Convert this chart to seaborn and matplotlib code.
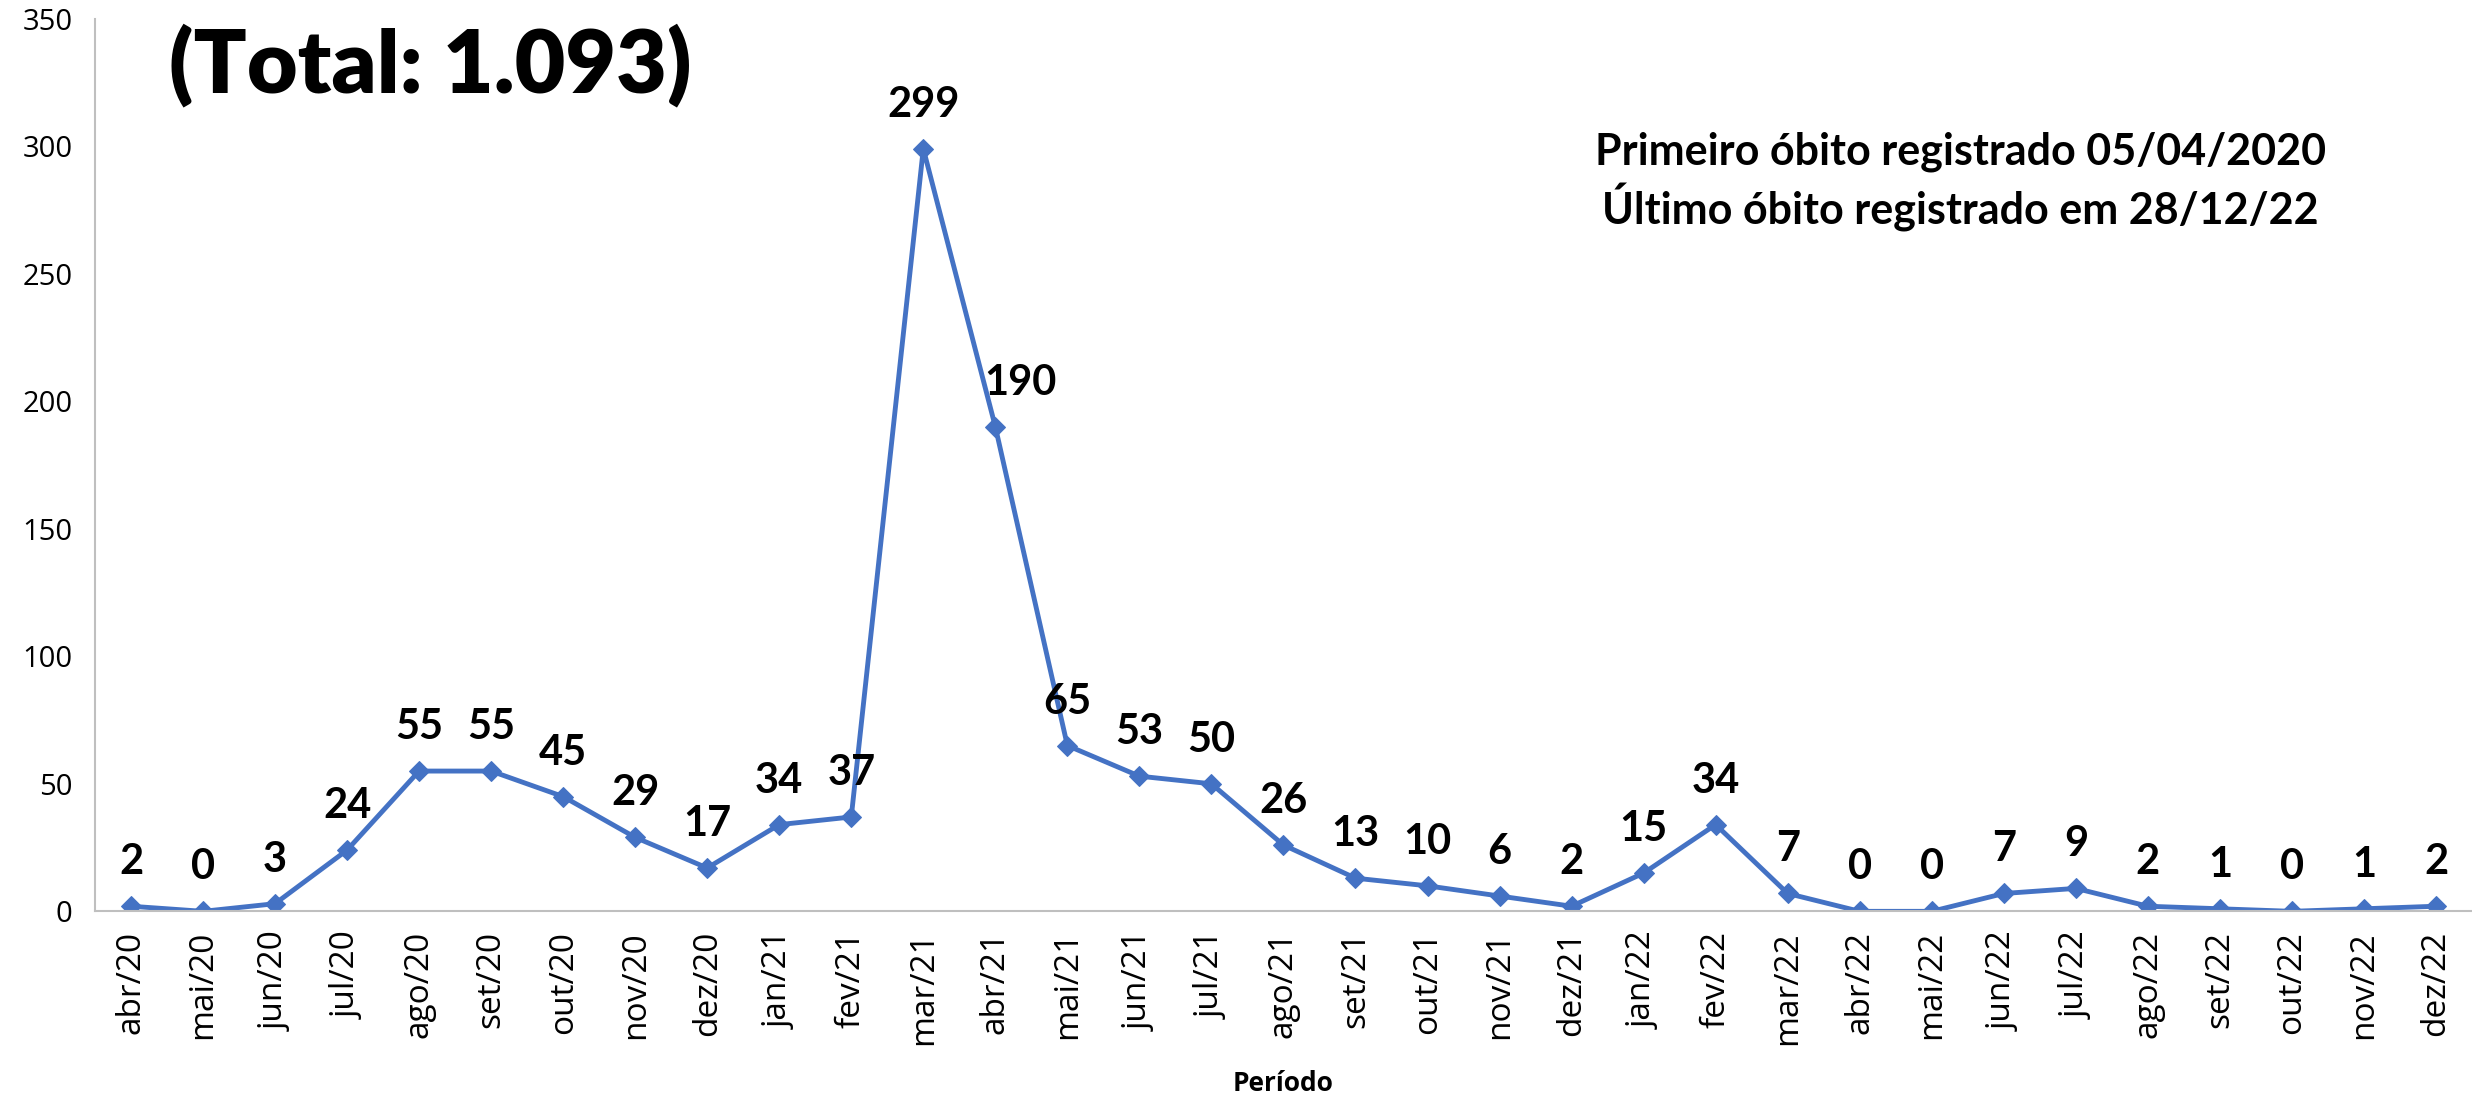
import pandas as pd
import seaborn as sns
import matplotlib.pyplot as plt

# Data
periodos = ['abr/20', 'mai/20', 'jun/20', 'jul/20', 'ago/20', 'set/20', 'out/20', 'nov/20', 'dez/20',
            'jan/21', 'fev/21', 'mar/21', 'abr/21', 'mai/21', 'jun/21', 'jul/21', 'ago/21', 'set/21',
            'out/21', 'nov/21', 'dez/21', 'jan/22', 'fev/22', 'mar/22', 'abr/22', 'mai/22', 'jun/22',
            'jul/22', 'ago/22', 'set/22', 'out/22', 'nov/22', 'dez/22']
obitos = [2, 0, 3, 24, 55, 55, 45, 29, 17,
          34, 37, 299, 190, 65, 53, 50, 26, 13,
          10, 6, 2, 15, 34, 7, 0, 0, 7,
          9, 2, 1, 0, 1, 2]
yticks = [0, 50, 100, 150, 200, 250, 300, 350]

df = pd.DataFrame({'Período': periodos, 'obitos': obitos})

sns.set_style('white')
plt.rcParams['font.family'] = ['Open Sans', 'DejaVu Sans']
plt.rcParams['text.color'] = 'black'
plt.rcParams['xtick.color'] = 'black'
plt.rcParams['ytick.color'] = 'black'
plt.rcParams['axes.labelcolor'] = 'black'

bold_font = ['Lato', 'DejaVu Sans']

fig, ax = plt.subplots(figsize=(24.72, 10.98), dpi=100)
fig.subplots_adjust(left=0.0384, right=1.0, bottom=0.170, top=0.983)

sns.lineplot(data=df, x='Período', y='obitos', sort=False, ax=ax, color='#4472C4',
             linewidth=3.5, marker='D', markersize=10, markeredgecolor='#4472C4')

# Data labels
for i, v in enumerate(obitos):
    dx = 18 if periodos[i] == 'abr/21' else 0
    ax.annotate(str(v), (i, v), xytext=(dx, 18), textcoords='offset points',
                ha='center', va='bottom', fontsize=30, fontweight='bold',
                family=bold_font)

ax.set_xlim(-0.5, len(periodos) - 0.5)
ax.set_ylim(0, 350)
ax.set_yticks(yticks)
ax.tick_params(axis='y', labelsize=21, length=0, pad=16)
ax.tick_params(axis='x', labelsize=24, length=0, pad=14, rotation=90)
ax.set_ylabel('')
ax.set_xlabel('Período', fontsize=19, fontweight='bold', labelpad=18)

for s in ['top', 'right']:
    ax.spines[s].set_visible(False)
for s in ['left', 'bottom']:
    ax.spines[s].set_color('#BFBFBF')
    ax.spines[s].set_linewidth(1.5)

fig.text(0.174, 0.94, '(Total: 1.093)', ha='center', va='center', fontsize=63,
         fontweight='heavy', family=bold_font)
fig.text(0.793, 0.862, 'Primeiro óbito registrado 05/04/2020', ha='center', va='center',
         fontsize=31, fontweight='bold', family=bold_font)
fig.text(0.793, 0.811, 'Último óbito registrado em 28/12/22', ha='center', va='center',
         fontsize=31, fontweight='bold', family=bold_font)

fig.savefig('out.png', dpi=100)
